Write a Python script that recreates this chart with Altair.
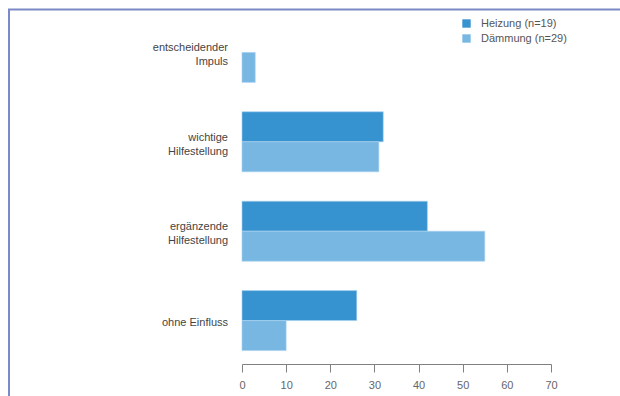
import altair as alt
import pandas as pd

categories = ["entscheidender\nImpuls", "wichtige\nHilfestellung", "ergänzende\nHilfestellung", "ohne Einfluss"]
series = ["Heizung (n=19)", "Dämmung (n=29)"]
heizung = [0, 32, 42, 26]
daemmung = [3, 31, 55, 10]
colors = ["#3792d0", "#79b7e3"]
x_ticks = [0, 10, 20, 30, 40, 50, 60, 70]

rows = []
for i, c in enumerate(categories):
    rows.append({"cat": c, "series": series[0], "value": heizung[i]})
    rows.append({"cat": c, "series": series[1], "value": daemmung[i]})
df = pd.DataFrame(rows)
labels_df = pd.DataFrame({"cat": categories})

W, H = 309, 355
PAD = {"left": 242, "top": 9, "right": 69, "bottom": 32}

y_enc = alt.Y("cat:N", sort=categories,
              scale=alt.Scale(paddingInner=0.329, paddingOuter=0.15),
              axis=alt.Axis(title=None, domain=False, ticks=False, labels=False))

bars = alt.Chart(df).transform_filter("datum.value > 0").mark_bar(
    stroke="#a9d1ef", strokeWidth=0.6).encode(
    x=alt.X("value:Q", scale=alt.Scale(domain=[0, 70], nice=False),
            axis=alt.Axis(values=x_ticks, title=None, grid=False, domainColor="#808080",
                          tickColor="#808080", tickSize=8, labelPadding=7, labelFlush=False,
                          labelFont="Liberation Sans", labelFontSize=11, labelColor="#666666")),
    y=y_enc,
    yOffset=alt.YOffset("series:N", sort=series, scale=alt.Scale(domain=series, paddingInner=0, paddingOuter=0)),
    color=alt.Color("series:N", sort=series, scale=alt.Scale(domain=series, range=colors),
                    legend=alt.Legend(title=None, orient="none", legendX=219, legendY=9,
                                      symbolType="square", symbolSize=70, symbolStrokeWidth=0,
                                      labelFont="Liberation Sans", labelFontSize=11,
                                      labelColor="#555555", rowPadding=3, labelOffset=9)),
)

label_base = alt.Chart(labels_df).transform_calculate(
    lines="split(datum.cat, '\\n')", n="length(split(datum.cat, '\\n'))")
text_props = dict(align="right", baseline="middle", lineHeight=14,
                  font="Liberation Sans", fontSize=11, color="#444444")
labels2 = label_base.transform_filter("datum.n > 1").mark_text(dy=-4, **text_props).encode(
    y=y_enc, x=alt.value(-14), text="lines:N")
labels1 = label_base.transform_filter("datum.n == 1").mark_text(dy=2, **text_props).encode(
    y=y_enc, x=alt.value(-14), text="lines:N")

border_left = alt.Chart(pd.DataFrame({"a": [0]})).mark_rule(color="#7b8ac6", strokeWidth=2, clip=False).encode(
    x=alt.value(-233), y=alt.value(0), y2=alt.value(400))
border_top = alt.Chart(pd.DataFrame({"a": [0]})).mark_rule(color="#7b8ac6", strokeWidth=2, clip=False).encode(
    x=alt.value(-234), x2=alt.value(400), y=alt.value(0.5))

chart = alt.layer(bars, labels2, labels1, border_left, border_top).properties(
    width=W, height=H, padding=PAD, autosize=alt.AutoSizeParams(type="none"),
    background="white"
).configure_view(stroke=None)

chart.save("out.html", embed_options={"renderer": "svg", "actions": False})
